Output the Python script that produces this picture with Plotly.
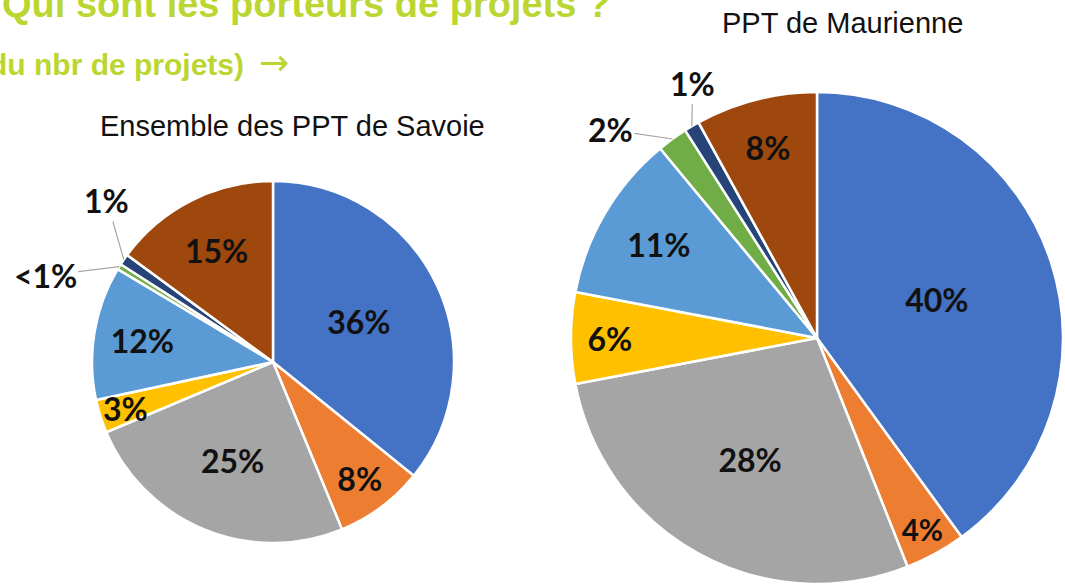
import math
import plotly.graph_objects as go

# ---- data ----
categories = ["Cat A", "Cat B", "Cat C", "Cat D", "Cat E", "Cat F", "Cat G", "Cat H"]
savoie_values = [36, 8, 25, 3, 12, 0.5, 1, 15]
savoie_labels = ["36%", "8%", "25%", "3%", "12%", "<1%", "1%", "15%"]
maurienne_values = [40, 4, 28, 6, 11, 2, 1, 8]
maurienne_labels = ["40%", "4%", "28%", "6%", "11%", "2%", "1%", "8%"]
colors = ["#4472C4", "#ED7D31", "#A5A5A5", "#FFC000", "#5B9BD5", "#70AD47", "#264478", "#9E480E"]

title_left = "Ensemble des PPT de Savoie"
title_right = "PPT de Maurienne"
header1 = "Qui sont les porteurs de projets ?"
header2 = "(du nbr de projets)"
header2_arrow = "→"

W, H = 1065, 588
GREEN = "#BCD631"

# pie boxes in pixels (left, top, size)
LEFT_BOX = (92, 181, 362)
RIGHT_BOX = (571, 92, 492)

# how each label is drawn: "in" = native inside text, ("out", dx, dy) = leader label, ("rad", f) = at f*radius
savoie_style = ["in", "in", "in", ("rad", 0.855), "in", ("out", -74, 9), ("out", -17, -59), "in"]
maurienne_style = ["in", "in", "in", "in", "in", ("out", -62, -9), ("out", 1, -43), "in"]

label_font = dict(family="Lato, Carlito, Calibri, sans-serif", size=32, color="#111111", weight="bold")


def box_domain(box):
    x0, y0, s = box
    return dict(x=[x0 / W, (x0 + s) / W], y=[1 - (y0 + s) / H, 1 - y0 / H])


def label_annotations(values, labels, styles, box):
    x0, y0, s = box
    cx, cy, r = x0 + s / 2, y0 + s / 2, s / 2
    total = sum(values)
    cum = 0
    out = []
    for v, lab, st in zip(values, labels, styles):
        mid = (cum + v / 2) / total * 2 * math.pi
        cum += v
        if st == "in":
            continue
        if st[0] == "rad":
            f = st[1]
            px, py = cx + f * r * math.sin(mid), cy - f * r * math.cos(mid)
            out.append(dict(text=lab, x=px / W, y=1 - py / H, showarrow=False,
                            xanchor="center", yanchor="middle", font=label_font))
        else:
            px, py = cx + r * math.sin(mid), cy - r * math.cos(mid)
            out.append(dict(text=lab, x=px / W, y=1 - py / H, showarrow=True,
                            ax=st[1], ay=st[2], arrowhead=0, arrowwidth=1.2,
                            arrowcolor="#A6A6A6", standoff=0, startstandoff=0,
                            font=label_font))
    return out


def pie(values, labels, styles, box):
    return go.Pie(
        labels=categories, values=values,
        text=[lab if st == "in" else "" for lab, st in zip(labels, styles)],
        textinfo="text", texttemplate="%{text}",
        textposition=["inside" if st == "in" else "none" for st in styles],
        insidetextorientation="horizontal",
        sort=False, direction="clockwise", rotation=0,
        marker=dict(colors=colors, line=dict(color="white", width=2.5)),
        textfont=label_font, insidetextfont=label_font,
        domain=box_domain(box), showlegend=False, hoverinfo="label+value",
    )


fig = go.Figure()
fig.add_trace(pie(savoie_values, savoie_labels, savoie_style, LEFT_BOX))
fig.add_trace(pie(maurienne_values, maurienne_labels, maurienne_style, RIGHT_BOX))

annos = [
    dict(text=header1, x=612 / W, y=1 - 4 / H, xanchor="right", yanchor="middle", showarrow=False,
         font=dict(family="Liberation Sans, Arial, sans-serif", size=38, color=GREEN, weight="bold")),
    dict(text=header2, x=246 / W, y=1 - 64 / H, xanchor="right", yanchor="middle", showarrow=False,
         font=dict(family="Liberation Sans Narrow, Arial Narrow, Liberation Sans, sans-serif", size=30,
                   color=GREEN, weight="bold")),
    dict(text=header2_arrow, x=274 / W, y=1 - 63 / H, xanchor="center", yanchor="middle", showarrow=False,
         font=dict(family="DejaVu Sans, sans-serif", size=36, color=GREEN)),
    dict(text=title_left, x=292 / W, y=1 - 126 / H, xanchor="center", yanchor="middle", showarrow=False,
         font=dict(family="Liberation Sans, Arial, sans-serif", size=29, color="#111111")),
    dict(text=title_right, x=843 / W, y=1 - 23 / H, xanchor="center", yanchor="middle", showarrow=False,
         font=dict(family="Liberation Sans, Arial, sans-serif", size=29, color="#111111")),
]
annos += label_annotations(savoie_values, savoie_labels, savoie_style, LEFT_BOX)
annos += label_annotations(maurienne_values, maurienne_labels, maurienne_style, RIGHT_BOX)
for a in annos:
    a.update(xref="paper", yref="paper")

fig.update_layout(
    width=W, height=H, autosize=False,
    margin=dict(l=0, r=0, t=0, b=0),
    paper_bgcolor="white", plot_bgcolor="white",
    annotations=annos,
)

fig.write_html("out.html", config={"displayModeBar": False},
               post_script="document.body.style.margin='0px';document.body.style.overflow='hidden';")
